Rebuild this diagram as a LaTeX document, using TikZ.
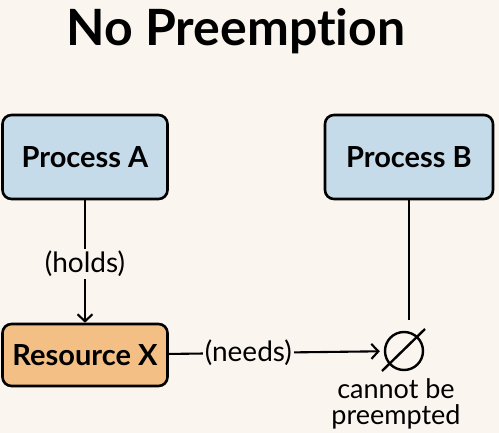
\documentclass[tikz,border=0pt]{standalone}
\usepackage{fontspec}
\setmainfont{Lato}[Ligatures=NoCommon]
\usetikzlibrary{arrows.meta}

\definecolor{paper}{HTML}{FAF5EE}
\definecolor{procblue}{HTML}{C5DBEA}
\definecolor{resorange}{HTML}{F3BF85}

\tikzset{
    box/.style={draw=black, line width=2.6pt, rounded corners=9pt,
        font=\fontsize{29}{33}\selectfont\bfseries},
    conn/.style={line width=2.1pt},
    tip/.style={-{Straight Barb[length=7pt,width=15pt]}},
    lbl/.style={fill=paper, inner sep=2pt, font=\fontsize{28}{32}\selectfont}
}

\begin{document}
\begin{tikzpicture}[x=1pt, y=-1pt]

    % canvas
    \fill[paper] (0,0) rectangle (499,433);
    \useasboundingbox (0,0) rectangle (499,433);

    % title
    \node (title) at (236,31) {\fontsize{50}{54}\selectfont\bfseries No Preemption};

    % processes and resource
    \node[box, fill=procblue, minimum width=165pt, minimum height=84pt] (procA) at (85,157) {Process A};
    \node[box, fill=procblue, minimum width=168pt, minimum height=84pt] (procB) at (409,157) {Process B};
    \node[box, fill=resorange, minimum width=165pt, minimum height=62pt] (resX) at (85,355) {Resource X};

    % blocked request symbol
    \node[circle, draw, line width=2.4pt, minimum size=38pt, inner sep=0pt] (blocked) at (404,351) {};
    \draw[line width=2.4pt] (blocked.center) +(-22,20) -- +(21,-22);

    \node[align=center, font=\fontsize{27}{26}\selectfont] (note) at (396,404) {cannot be\\preempted};

    % connectors
    \draw[conn, tip] (procA) -- node[lbl, pos=0.52] {(holds)} (resX);
    \draw[conn, tip, shorten >=4pt] (resX) -- node[lbl, pos=0.37] {(needs)} (blocked);
    \draw[conn, shorten >=11pt] (procB.south) -- (procB.south |- blocked.north);

\end{tikzpicture}
\end{document}
